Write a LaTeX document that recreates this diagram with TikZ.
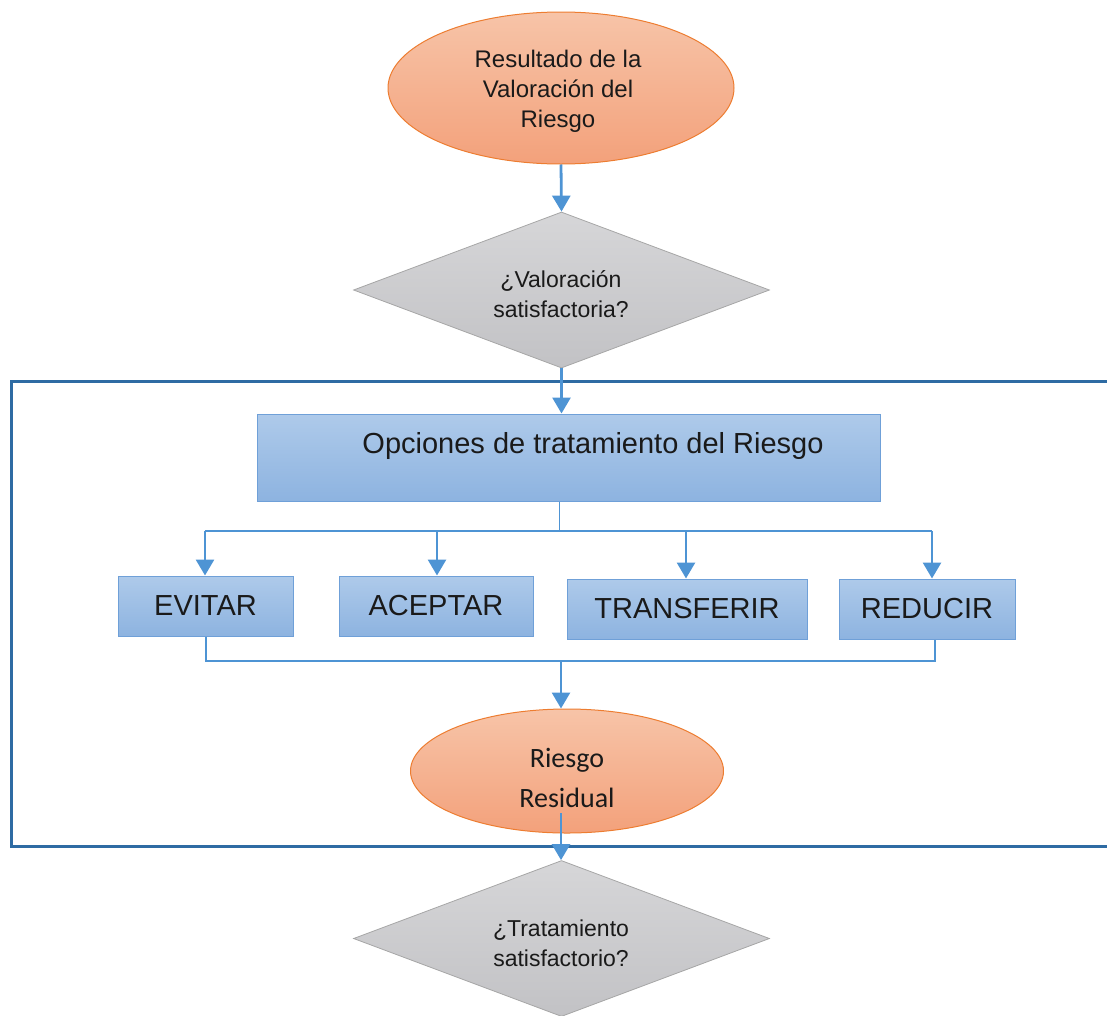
\documentclass[tikz,border=0pt]{standalone}
\usepackage{fontspec}
\setmainfont{Liberation Sans}
\newfontfamily\calib{Carlito}
\usetikzlibrary{shapes.geometric,arrows.meta}

\definecolor{ovalfillA}{HTML}{F7C4A8}
\definecolor{ovalfillB}{HTML}{F3A17B}
\definecolor{ovalline}{HTML}{ED7D31}
\definecolor{decfillA}{HTML}{D6D6D8}
\definecolor{decfillB}{HTML}{C2C2C5}
\definecolor{decline}{HTML}{A6A6A6}
\definecolor{boxfillA}{HTML}{AECAEA}
\definecolor{boxfillB}{HTML}{8DB3E0}
\definecolor{boxline}{HTML}{6FA0D8}
\definecolor{flow}{HTML}{4E94D4}
\definecolor{framecol}{HTML}{2E6BA3}
\definecolor{ink}{HTML}{1A1A1A}

\begin{document}
\begin{tikzpicture}[x=1pt,y=-1pt,
  oval/.style={ellipse, draw=ovalline, line width=1pt, top color=ovalfillA,
    bottom color=ovalfillB, inner sep=0pt},
  decision/.style={diamond, aspect=2.667, draw=decline, line width=0.8pt,
    top color=decfillA, bottom color=decfillB, inner sep=0pt},
  caption/.style={text=ink, inner sep=0pt, align=center},
  optbox/.style={rectangle, draw=boxline, line width=1pt, top color=boxfillA,
    bottom color=boxfillB, inner sep=0pt, text=ink,
    font=\fontsize{29}{34}\selectfont},
  flowarrow/.style={draw=flow, line width=2.8pt,
    -{Triangle[width=18pt,length=16pt]}},
  flowline/.style={draw=flow, line width=1.5pt}
]
\clip (0,0) rectangle (1107,1015);

% frame around the treatment stage
\draw[framecol, line width=3pt] (11,381) rectangle (1140,846);

% shapes
\node[oval, minimum width=346pt, minimum height=152pt] (res) at (561,88) {};
\node[caption, font=\fontsize{24}{30}\selectfont] (restext) at (558,91)
      {Resultado de la\\Valoración del\\Riesgo};

\node[decision, minimum width=416pt, minimum height=156pt] (val) at (561.5,290) {};
\node[caption, font=\fontsize{23}{30}\selectfont] (valtext) at (561,294)
      {¿Valoración\\satisfactoria?};

\node[optbox, minimum width=623pt, minimum height=87pt] (opt) at (568.5,457.5) {};
\node[caption, font=\fontsize{29}{34}\selectfont] (optlabel)
      at (593,446) {Opciones de tratamiento del Riesgo};

\node[optbox, minimum width=175pt, minimum height=60pt] (evitar) at (205.5,606) {EVITAR};
\node[optbox, minimum width=194pt, minimum height=60pt] (aceptar) at (436,606) {ACEPTAR};
\node[optbox, minimum width=240pt, minimum height=60pt] (transferir) at (687,609) {TRANSFERIR};
\node[optbox, minimum width=176pt, minimum height=60pt] (reducir) at (927,609) {REDUCIR};

\node[oval, minimum width=313pt, minimum height=124pt] (rr) at (567,771) {};
\node[caption, font=\calib\fontsize{28}{40}\selectfont] (rrtext) at (567,778)
      {Riesgo\\Residual};

\node[decision, minimum width=416pt, minimum height=156pt] (tra) at (561.5,938.5) {};
\node[caption, font=\fontsize{23}{30}\selectfont] (tratext) at (561,943)
      {¿Tratamiento\\satisfactorio?};

% connectors
\draw[flowarrow] (res.south) -- (val.north);
\draw[flowarrow] (val.south) -- (val.south |- opt.north);

\coordinate (hub) at (559,531);
\coordinate (b1) at (205,531);
\coordinate (b2) at (437,531);
\coordinate (b3) at (686,531);
\coordinate (b4) at (932,531);
\draw[flow, line width=1pt] (opt.south -| hub) -- (hub);
\draw[flow, line width=2pt] (b1) -- (b4);
\draw[flowarrow] (b1) -- (b1 |- evitar.north);
\draw[flowarrow] (b2) -- (b2 |- aceptar.north);
\draw[flowarrow] (b3) -- (b3 |- transferir.north);
\draw[flowarrow] (b4) -- (b4 |- reducir.north);

\coordinate (m1) at (206,661);
\coordinate (m2) at (935,661);
\draw[flowline] (evitar.south -| m1) -- (m1) -- (m2) -- (reducir.south -| m2);
\coordinate (join) at (561,662);
\draw[flowarrow] (join) -- (join |- rr.north);
\coordinate (rrout) at (561,813);
\draw[flowarrow] (rrout) -- (rrout |- tra.north);
\end{tikzpicture}
\end{document}
